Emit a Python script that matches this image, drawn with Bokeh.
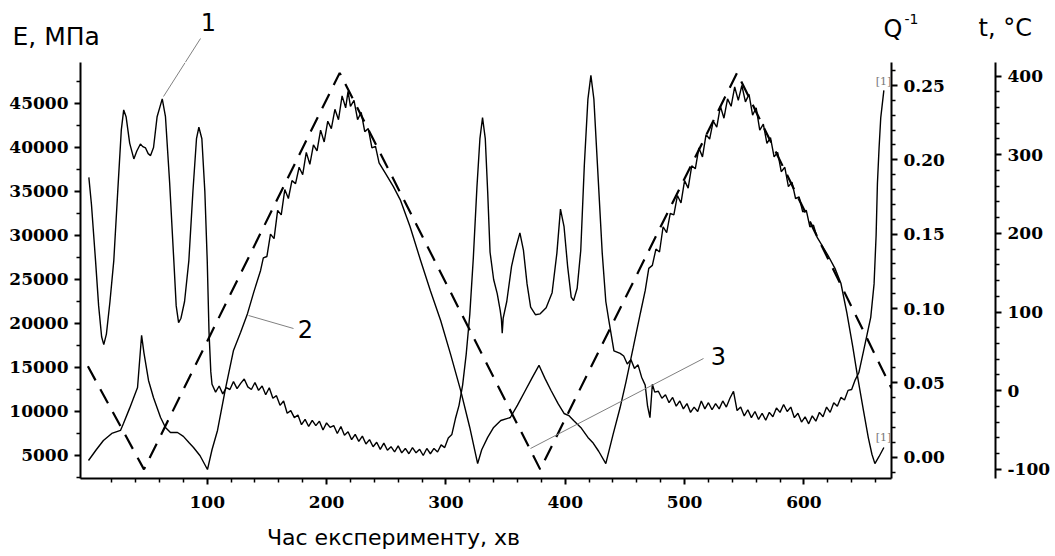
from bokeh.plotting import figure
from bokeh.layouts import column, row
from bokeh.models import Range1d, LinearAxis, FixedTicker, Label, Arrow, PrintfTickFormatter
from bokeh.embed import file_html
from bokeh.resources import INLINE

# ---------------- data ----------------
# curve 1: Young's modulus E, MPa (left axis)
e_time = [0.8, 3, 6.4, 9, 11.5, 13.3, 15.5, 18.5, 21.7, 25, 28, 30, 32, 35, 38.5, 41, 44, 46, 48.3, 50.5,
          52.5, 55, 58, 62.3, 65, 68.5, 72, 74, 76, 78, 81, 84.6, 88, 91, 93, 95.5, 98, 100, 101.5, 103,
          104, 107, 110, 113, 116, 119, 122, 125, 128, 131, 134, 137, 140, 143, 146, 149, 152, 155, 158,
          161, 164, 167, 170, 173, 176, 179, 182, 185, 188, 191, 194, 197, 200, 203, 206, 209, 212, 215,
          218, 221, 224, 227, 230, 233, 236, 239, 242, 245, 248, 251, 254, 257, 260, 263, 266, 269, 272,
          275, 278, 281, 284, 287, 290, 293, 296, 299, 302, 305, 308, 311, 314,
          317, 320, 323, 326, 328.5, 330.7, 333, 335, 337, 340, 343, 345.5, 346.5, 347.2, 348, 351, 355,
          358, 362, 365, 368, 371, 375, 379, 384, 389, 393, 396, 399, 402, 405, 407, 410, 413, 416, 419,
          421.5, 424, 427, 431, 434, 436.6, 440.8, 446,
          449, 452, 455, 458, 461, 464, 467, 469, 471, 473, 475, 478, 481, 484, 487, 490, 493, 496, 499,
          502, 505, 508, 511, 514, 517, 520, 523, 526, 529, 532, 535, 538, 541, 544, 547, 550, 553, 556,
          559, 562, 565, 568, 571, 574, 577, 580, 583, 586, 589, 592, 595, 598, 601, 604, 607, 610, 613,
          616, 619, 622, 625, 628, 631, 634, 637, 640, 643, 646,
          650, 653, 656, 658.8, 660.5, 661.6, 663, 664.4, 667]
e_mod = [36600, 33500, 27150, 22000, 18500, 17600, 18800, 22500, 27150, 35000, 42000, 44270, 43500, 40500,
         38700, 39600, 40400, 40100, 39950, 39300, 39080, 40000, 43500, 45520, 43500, 36000, 27150, 22000,
         20100, 20600, 22500, 27150, 35000, 41000, 42300, 41000, 35000, 27150, 19000, 14500,
         13100, 12200, 12900, 12000, 12700, 12500, 13400, 12600, 13200, 13700, 12800, 12500, 13300, 12400,
         12900, 11900, 12700, 11500, 11800, 10700, 11200, 9800, 10100, 9300, 9600, 8500, 9100, 8300, 9000,
         8400, 8900, 7900, 8700, 8200, 8400, 7500, 8300, 7300, 7700, 6800, 7400, 6600, 7200, 6300, 6800,
         6000, 6500, 5700, 6400, 5600, 6000, 5400, 6100, 5300, 5800, 5200, 5900, 5300, 5700, 5000, 5800,
         5200, 5800, 5400, 6200, 5900, 7000, 7400, 9200, 10700, 13000,
         16500, 21000, 27500, 35500, 41000, 43400, 41000, 35000, 28100, 25000, 23400, 21500, 20500, 18900,
         20600, 22500, 26500, 28300, 30300, 28300, 24500, 21850, 21000, 21100, 21800, 23500, 28000, 33000,
         31000, 26500, 23000, 22600, 24000, 28300, 38000, 45500, 48200, 45500, 38000, 28000, 22500, 20300,
         16900, 16600,
         16300, 15400, 15900, 14900, 15300, 13900, 13000, 10600, 9300, 13100, 12200, 12300, 11500, 11900,
         11000, 11600, 10600, 11200, 10300, 10900, 9900, 10500, 10000, 11200, 10300, 11000, 10200, 10900,
         10300, 11200, 10500, 11500, 12300, 10100, 10500, 9500, 10200, 9300, 10000, 9100, 9800, 9000,
         9900, 9400, 10400, 9900, 10800, 10000, 10500, 9300, 9800, 8800, 9400, 8600, 9500, 8900, 9900,
         9400, 10500, 9900, 11000, 10600, 11600, 11300, 12400, 12500, 13600, 14400,
         16900, 18800, 20700, 24500, 30000, 35900, 40000, 43400, 46500]

# curve 2: internal friction Q^-1 (first right axis)
q_time = [0.5, 7, 13, 20, 27.3, 29.8, 35, 41.6, 45, 47, 50.8, 55, 60.9, 65, 69.2, 75.1, 80, 85, 88.5, 94,
          100.2, 104, 108.6, 115, 122, 128, 133.8, 139, 144.7,
          147, 150, 153, 156, 159, 162, 165, 168, 171, 174, 177, 180, 183, 186, 189, 192, 195, 198, 201,
          204, 207, 210, 213, 216, 218, 220, 223, 226, 229, 232, 235, 238, 241, 244,
          250, 256, 262, 270, 278.8, 287, 295.6, 304, 312.4, 320, 326.6, 330, 335, 340, 346, 354, 360, 366,
          372, 378, 383, 388, 394, 399, 403, 407, 413, 419, 423, 428, 434, 440, 446, 451, 457, 463, 467,
          470, 473, 476, 479, 482, 485, 488, 491, 494, 497, 500, 503, 506, 509, 512, 515, 518, 521, 524,
          527, 530, 533, 536, 539, 542, 545, 548, 551, 554, 557, 560, 563, 566, 569, 572, 575, 578, 581,
          584, 587, 590, 593, 596, 599, 602, 605, 608, 611,
          620, 626, 631, 636, 641, 645, 650, 654, 657, 659.5, 663, 667]
q_val = [-0.0022, 0.005, 0.0112, 0.016, 0.018, 0.0227, 0.033, 0.0469, 0.082, 0.070, 0.0516, 0.040, 0.0267,
         0.020, 0.0166, 0.0166, 0.014, 0.0095, 0.0065, 0.001, -0.0083, 0.005, 0.018, 0.045, 0.0718, 0.084,
         0.0967, 0.111, 0.1256,
         0.134, 0.135, 0.150, 0.147, 0.166, 0.163, 0.180, 0.174, 0.186, 0.184, 0.195, 0.190, 0.205, 0.197,
         0.210, 0.206, 0.220, 0.212, 0.226, 0.221, 0.234, 0.227, 0.243, 0.235, 0.246, 0.236, 0.240, 0.227,
         0.232, 0.219, 0.221, 0.208, 0.209, 0.198,
         0.190, 0.182, 0.1727, 0.155, 0.1323, 0.112, 0.0919, 0.069, 0.0448, 0.020, -0.0043, 0.005, 0.0133,
         0.020, 0.0247, 0.0267, 0.035, 0.044, 0.053, 0.0618, 0.053, 0.045, 0.036, 0.0294, 0.028, 0.0247,
         0.020, 0.0133, 0.0099, 0.004, -0.0043, 0.015, 0.0334, 0.051, 0.0738, 0.097, 0.112,
         0.127, 0.129, 0.140, 0.138, 0.155, 0.151, 0.164, 0.163, 0.176, 0.171, 0.186, 0.181, 0.196, 0.194,
         0.208, 0.202, 0.217, 0.214, 0.226, 0.222, 0.236, 0.228, 0.241, 0.236, 0.249, 0.240, 0.250, 0.239,
         0.244, 0.230, 0.235, 0.220, 0.224, 0.211, 0.215, 0.202, 0.205, 0.192, 0.195, 0.182, 0.185, 0.174,
         0.175, 0.165, 0.166, 0.155, 0.156, 0.148,
         0.136, 0.127, 0.117, 0.097, 0.074, 0.054, 0.031, 0.013, 0.002, -0.0043, 0.0005, 0.0065]

# curve 3: temperature t, °C (second right axis)
t_time = [0, 47, 211, 379, 544, 673.4]
t_val = [31, -100, 404, -100, 404, 3]

x_major = [100, 200, 300, 400, 500, 600]
x_minor = [20, 40, 60, 80, 120, 140, 160, 180, 220, 240, 260, 280, 320, 340, 360, 380, 420, 440, 460, 480,
           520, 540, 560, 580, 620, 640, 660]
e_major = [5000, 10000, 15000, 20000, 25000, 30000, 35000, 40000, 45000]
e_minor = [2500, 7500, 12500, 17500, 22500, 27500, 32500, 37500, 42500, 47500]
q_major = [0.0, 0.05, 0.10, 0.15, 0.20, 0.25]
q_minor = [-0.01, 0.01, 0.02, 0.03, 0.04, 0.06, 0.07, 0.08, 0.09, 0.11, 0.12, 0.13, 0.14, 0.16, 0.17,
           0.18, 0.19, 0.21, 0.22, 0.23, 0.24, 0.26]
t_major = [-100, 0, 100, 200, 300, 400]
t_minor = [-80, -60, -40, -20, 20, 40, 60, 80, 120, 140, 160, 180, 220, 240, 260, 280, 320, 340, 360, 380]

SANS = "DejaVu Sans"


def strip(w, h, left=0):
    f = figure(width=w, height=h, x_range=Range1d(0, w - left), y_range=Range1d(0, h),
               min_border=0, min_border_left=left, x_axis_location=None, y_axis_location=None,
               output_backend="svg", toolbar_location=None)
    f.outline_line_color = None
    f.grid.visible = False
    return f


def lab(fig, x, y, text, size="24px", font=SANS, align="left", color="black"):
    fig.add_layout(Label(x=x, y=y, x_units="screen", y_units="screen", text=text,
                         text_font=font, text_font_size=size, text_align=align,
                         text_baseline="middle", text_color=color))


def leader(fig, xs, ys, xe, ye):
    fig.add_layout(Arrow(end=None, x_start=xs, y_start=ys, x_end=xe, y_end=ye,
                         start_units="screen", end_units="screen",
                         line_color="#808080", line_width=1))


# ---------------- header strip: two pieces side by side ----------------
hl = strip(883, 62)
lab(hl, 12, 26, "E, МПа", size="25px")
lab(hl, 208, 41, "1", align="center")
leader(hl, 200, 24, 184.7, 0)

hr = strip(168, 62)
lab(hr, 0, 34, "Q")
lab(hr, 21, 44, "-1", size="14px")
lab(hr, 95, 35, "t, °C")

# ---------------- main chart ----------------
p = figure(frame_width=811, frame_height=416, min_border_left=80, min_border_top=0,
           min_border_bottom=40, min_border_right=0,
           x_range=Range1d(-6.2, 673.4), y_range=Range1d(2386, 49659),
           output_backend="svg", toolbar_location=None)
p.extra_y_ranges = {"q": Range1d(-0.014326, 0.26547), "t": Range1d(-111.6, 417.2)}
p.grid.visible = False
p.outline_line_color = None
p.background_fill_color = "white"
p.border_fill_color = "white"


def style(ax):
    ax.axis_line_width = 2
    ax.axis_line_color = "black"
    ax.major_tick_line_width = 2
    ax.minor_tick_line_width = 1.5
    ax.major_tick_line_color = "black"
    ax.minor_tick_line_color = "black"
    ax.major_tick_out = 6
    ax.major_tick_in = 0
    ax.minor_tick_out = 4
    ax.minor_tick_in = 0
    ax.major_label_text_font = "DejaVu Serif"
    ax.major_label_text_font_style = "bold"
    ax.major_label_text_font_size = "17px"
    ax.major_label_text_color = "black"
    ax.major_label_standoff = 6


xa = p.xaxis[0]
style(xa)
xa.major_label_standoff = 11
xa.ticker = FixedTicker(ticks=x_major, minor_ticks=x_minor)
xa.formatter = PrintfTickFormatter(format="%d")

ya = p.yaxis[0]
style(ya)
ya.ticker = FixedTicker(ticks=e_major, minor_ticks=e_minor)
ya.formatter = PrintfTickFormatter(format="%d")

qa = LinearAxis(y_range_name="q")
style(qa)
qa.ticker = FixedTicker(ticks=q_major, minor_ticks=q_minor)
qa.formatter = PrintfTickFormatter(format="%.2f")
qa.axis_label = " "
qa.axis_label_text_font_size = "12px"
qa.axis_label_standoff = 31
p.add_layout(qa, "right")

ta = LinearAxis(y_range_name="t")
style(ta)
ta.ticker = FixedTicker(ticks=t_major, minor_ticks=t_minor)
ta.formatter = PrintfTickFormatter(format="%d")
p.add_layout(ta, "right")

p.line(e_time, e_mod, line_color="black", line_width=1.4)
p.line(q_time, q_val, y_range_name="q", line_color="black", line_width=1.4)
p.line(t_time, t_val, y_range_name="t", line_color="black", line_width=2.2, line_dash="16 10")

lab(p, 225, 150, "2", align="center")
lab(p, 638, 123, "3", align="center")
lab(p, 803, 397, "[1]", size="11px", font="DejaVu Serif", align="center", color="#777777")
lab(p, 803, 41, "[1]", size="11px", font="DejaVu Serif", align="center", color="#777777")
leader(p, 104.7, 416, 83, 382)
leader(p, 168, 163, 213, 150)
leader(p, 623, 120, 450, 30)

# ---------------- footer strip (x axis title) ----------------
foot = strip(1000, 34, left=80)
lab(foot, 313, 15, "Час експерименту, хв", size="22px", align="center")

layout = column(row(hl, hr, spacing=0), p, foot, spacing=0)
open("out.html", "w").write(file_html(layout, INLINE))
